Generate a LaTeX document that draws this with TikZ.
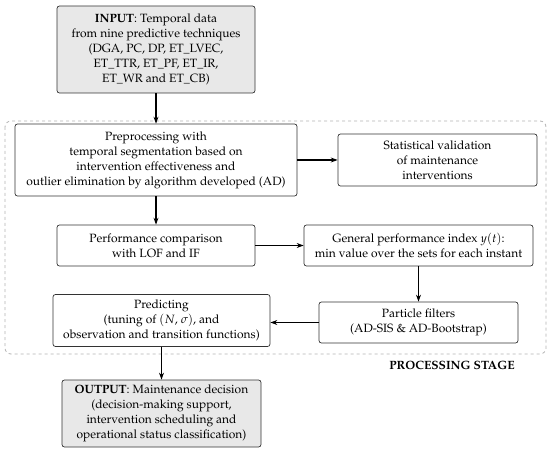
\documentclass[tikz,border=0pt]{standalone}
\usepackage[T1]{fontenc}
\usepackage{mathpazo}
\usetikzlibrary{arrows.meta}
\begin{document}
\begin{tikzpicture}[x=1pt,y=1pt,
  box/.style={draw=black!80,line width=0.7pt,rounded corners=2.5pt,align=center,inner sep=0pt,font=\fontsize{12}{15}\selectfont},
  grayfill/.style={fill=black!9},
  conn/.style={line width=1.1pt,-{Stealth[length=7pt,width=5pt]}}]
\useasboundingbox (0,0) rectangle (550,-452);
\draw[black!30,dashed,line width=0.8pt,rounded corners=6pt] (5,-121) rectangle (546,-354);
\node[box,grayfill,minimum width=198pt,minimum height=87pt] (input) at (156,-49.5)
  {\textbf{INPUT}: Temporal data\\from nine predictive techniques\\(DGA, PC, DP, ET\_LVEC,\\ET\_TTR, ET\_PF, ET\_IR,\\ET\_WR and ET\_CB)};
\node[box,minimum width=282pt,minimum height=72pt] (pre) at (156,-160)
  {Preprocessing with\\temporal segmentation based on\\intervention effectiveness and\\outlier elimination by algorithm developed (AD)};
\node[box,minimum width=199pt,minimum height=52pt] (stat) at (437.5,-160)
  {Statistical validation\\of maintenance\\interventions};
\node[box,minimum width=198pt,minimum height=41pt] (perf) at (156,-245.5)
  {Performance comparison\\with LOF and IF};
\node[box,minimum width=229pt,minimum height=41pt] (gen) at (418.5,-245.5)
  {General performance index $y(t)$:\\min value over the sets for each instant};
\node[box,minimum width=199pt,minimum height=41pt] (part) at (418.5,-322.5)
  {Particle filters\\(AD-SIS \& AD-Bootstrap)};
\node[box,minimum width=217pt,minimum height=52pt] (pred) at (161.5,-320.5)
  {Predicting\\(tuning of $(N$, $\sigma)$, and\\observation and transition functions)};
\node[box,grayfill,minimum width=199pt,minimum height=67pt] (out) at (161.5,-413.5)
  {\textbf{OUTPUT}: Maintenance decision\\(decision-making support,\\intervention scheduling and\\operational status classification)};
\node[font=\fontsize{12}{15}\selectfont\bfseries] (stage) at (452,-365) {PROCESSING STAGE};
\draw[conn] (input) -- (pre);
\draw[conn] (pre) -- (stat);
\draw[conn] (pre) -- (perf);
\draw[conn] (perf) -- (gen);
\draw[conn] (gen) -- (part);
\draw[conn] (part.west) -- (pred.east|-part.west);
\draw[conn] (pred) -- (out);
\end{tikzpicture}
\end{document}
